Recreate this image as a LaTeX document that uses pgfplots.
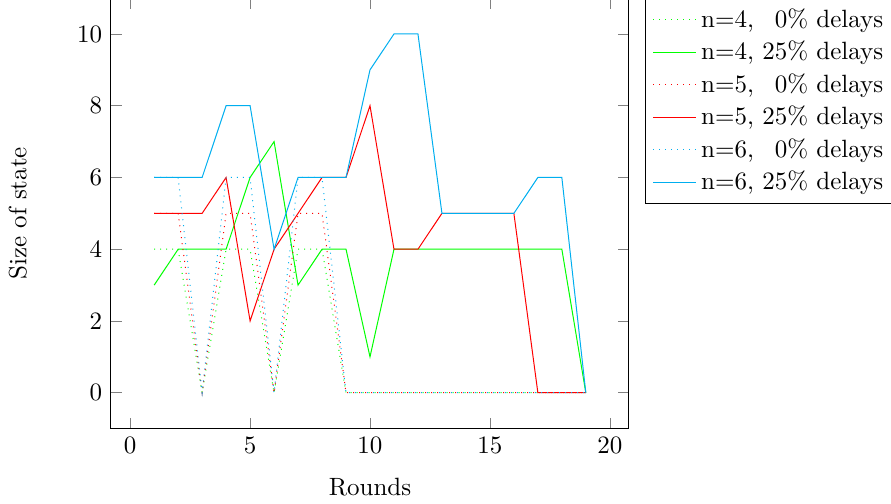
\documentclass[border=0pt]{standalone}
\usepackage{pgfplots}
\pgfplotsset{compat=1.18}
\definecolor{mygreen}{RGB}{0,255,0}
\definecolor{myred}{RGB}{255,0,0}
\definecolor{mycyan}{RGB}{0,174,239}
\begin{document}
\begin{tikzpicture}
\begin{axis}[
  scale only axis,
  width=207.2pt, height=172.2pt,
  xmin=-0.8, xmax=20.8, ymin=-1, ymax=11,
  xtick={0,5,10,15,20}, ytick={0,2,4,6,8,10},
  xlabel={Rounds}, ylabel={Size of state},
  xlabel style={at={(axis description cs:0.5,-0.1357)}, anchor=center},
  ylabel style={at={(axis description cs:-0.18,0.5)}, anchor=center},
  legend pos=outer north east,
]
\addplot[mygreen, dotted] coordinates {(1,4) (2,4) (3,0) (4,4) (5,4) (6,0) (7,4) (8,4) (9,0) (10,0) (11,0) (12,0) (13,0) (14,0) (15,0) (16,0) (17,0) (18,0) (19,0)};
\addlegendentry{n=4, \phantom{2}0\% delays}
\addplot[mygreen] coordinates {(1,3) (2,4) (3,4) (4,4) (5,6) (6,7) (7,3) (8,4) (9,4) (10,1) (11,4) (12,4) (13,4) (14,4) (15,4) (16,4) (17,4) (18,4) (19,0)};
\addlegendentry{n=4, 25\% delays}
\addplot[myred, dotted] coordinates {(1,5) (2,5) (3,0) (4,5) (5,5) (6,0) (7,5) (8,5) (9,0) (10,0) (11,0) (12,0) (13,0) (14,0) (15,0) (16,0) (17,0) (18,0) (19,0)};
\addlegendentry{n=5, \phantom{2}0\% delays}
\addplot[myred] coordinates {(1,5) (2,5) (3,5) (4,6) (5,2) (6,4) (7,5) (8,6) (9,6) (10,8) (11,4) (12,4) (13,5) (14,5) (15,5) (16,5) (17,0) (18,0) (19,0)};
\addlegendentry{n=5, 25\% delays}
\addplot[mycyan, dotted] coordinates {(1,6) (2,6) (3,0) (4,6) (5,6) (6,0) (7,6) (8,6) (9,0) (10,0) (11,0) (12,0) (13,0) (14,0) (15,0) (16,0) (17,0) (18,0) (19,0)};
\addlegendentry{n=6, \phantom{2}0\% delays}
\addplot[mycyan] coordinates {(1,6) (2,6) (3,6) (4,8) (5,8) (6,4) (7,6) (8,6) (9,6) (10,9) (11,10) (12,10) (13,5) (14,5) (15,5) (16,5) (17,6) (18,6) (19,0)};
\addlegendentry{n=6, 25\% delays}
\end{axis}
\pgfresetboundingbox
\useasboundingbox (-44.4pt,-29.76pt) rectangle (312pt,171.44pt);
\end{tikzpicture}
\end{document}
